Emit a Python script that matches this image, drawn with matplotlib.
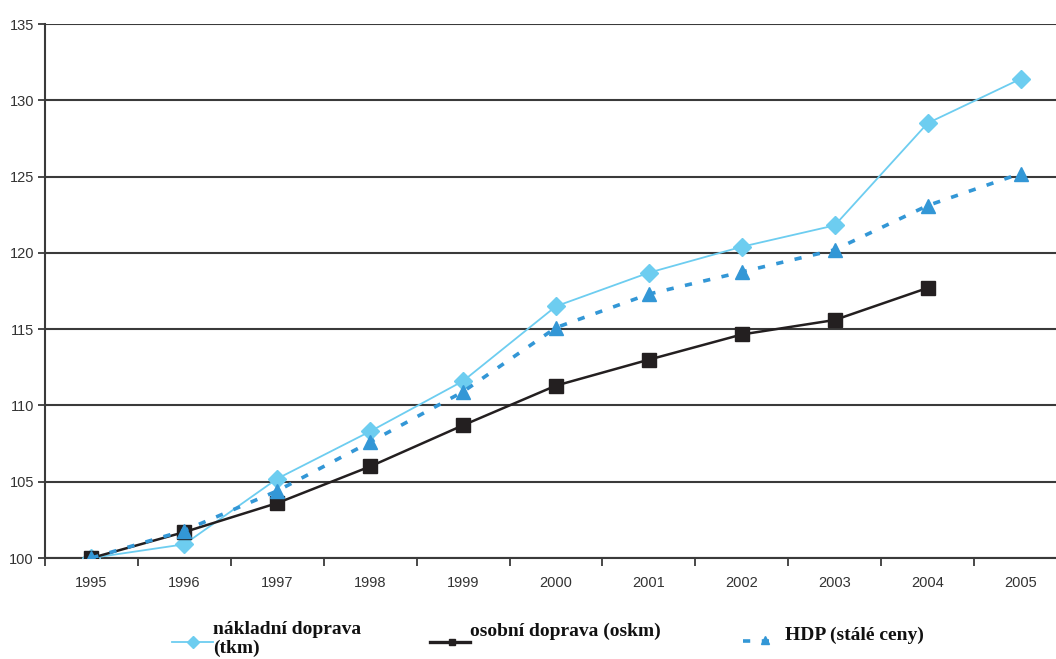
import numpy as np
import matplotlib
matplotlib.use('Agg')
import matplotlib.pyplot as plt
from matplotlib.lines import Line2D

years = ['1995', '1996', '1997', '1998', '1999', '2000',
		 '2001', '2002', '2003', '2004', '2005']

# index 1995 = 100
nakladni = [100.0, 100.9, 105.2, 108.3, 111.6, 116.5, 118.7, 120.4, 121.8, 128.5, 131.4]
osobni = [100.0, 101.7, 103.6, 106.0, 108.7, 111.3, 113.0, 114.65, 115.6, 117.7, np.nan]
hdp = [100.0, 101.8, 104.4, 107.6, 110.9, 115.1, 117.3, 118.75, 120.2, 123.1, 125.2]

c_nakl = '#6dcdf0'
c_osob = '#231f20'
c_hdp = '#3397d6'
grid_c = '#3a3a3a'

W, H = 1056, 659
fig = plt.figure(figsize=(W/100, H/100), dpi=100)
ax = fig.add_axes([45/W, (H-558)/H, 1022/W, 534/H])

x = np.arange(len(years))
ax.plot(x, nakladni, color=c_nakl, lw=1.3, marker='D', ms=9, zorder=3)
ax.plot(x, osobni, color=c_osob, lw=1.8, marker='s', ms=10, zorder=4)
ax.plot(x, hdp, color=c_hdp, lw=2.6, ls=(0, (2.0, 3.2)), marker='^', ms=10, zorder=5)

ax.set_xlim(-0.5, len(years) - 0.5)
ax.set_ylim(100, 135)
ax.set_yticks(np.arange(100, 136, 5))
ax.set_xticks(x)
ax.set_xticklabels(years)
ax.set_xticks(np.arange(-0.5, len(years), 1), minor=True)
ax.tick_params(axis='x', which='major', length=0, pad=13, labelsize=10.5, labelcolor='#333333')
ax.tick_params(axis='x', which='minor', length=6, width=1.3, color=grid_c, direction='out')
ax.tick_params(axis='y', length=5, width=1.3, color=grid_c, pad=3, labelsize=10.5, labelcolor='#333333')
for lbl in ax.get_xticklabels() + ax.get_yticklabels():
	lbl.set_family('Liberation Sans')

ax.yaxis.grid(True, color=grid_c, lw=1.5)
ax.set_axisbelow(True)
for s in ['top', 'right']:
	ax.spines[s].set_visible(False)
for s in ['left', 'bottom']:
	ax.spines[s].set_color(grid_c)
	ax.spines[s].set_linewidth(1.5)

# legend keys drawn by hand below the axis
def fx(px):
	return px / W

def fy(py):
	return 1 - py / H

lfont = dict(family='Liberation Serif', weight='bold', size=14, color='#111111')

fig.add_artist(Line2D([fx(172), fx(213)], [fy(642), fy(642)], color=c_nakl, lw=1.3))
fig.add_artist(Line2D([fx(193)], [fy(642)], color=c_nakl, marker='D', ms=6, lw=0))
fig.text(fx(213), fy(630), 'nákladní doprava', va='center', ha='left', **lfont)
fig.text(fx(213), fy(648), '(tkm)', va='center', ha='left', **lfont)

fig.add_artist(Line2D([fx(430), fx(470)], [fy(642), fy(642)], color=c_osob, lw=2.4))
fig.add_artist(Line2D([fx(452)], [fy(642)], color=c_osob, marker='s', ms=5, lw=0))
fig.text(fx(470), fy(631), 'osobní doprava (oskm)', va='center', ha='left', **lfont)

fig.add_artist(Line2D([fx(743), fx(780)], [fy(641), fy(641)], color=c_hdp, lw=2.6, ls=(0, (2.0, 3.2))))
fig.add_artist(Line2D([fx(765)], [fy(640)], color=c_hdp, marker='^', ms=6, lw=0))
fig.text(fx(785), fy(635), 'HDP (stálé ceny)', va='center', ha='left', **lfont)

fig.savefig('out.png', dpi=100)
